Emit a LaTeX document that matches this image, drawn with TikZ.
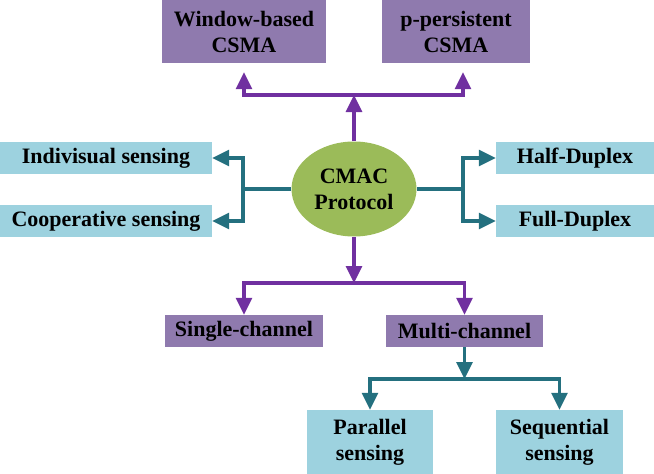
\documentclass[tikz,border=0pt]{standalone}
\usepackage{fontspec}
\setmainfont{Liberation Serif}
\usetikzlibrary{arrows.meta,shapes.geometric}
\definecolor{boxpurple}{HTML}{8F7AAE}
\definecolor{boxblue}{HTML}{9DD2DF}
\definecolor{ellgreen}{HTML}{9BBB59}
\definecolor{linepurple}{HTML}{7030A0}
\definecolor{lineteal}{HTML}{24707F}
\begin{document}
\begin{tikzpicture}[x=1pt,y=-1pt,
  every node/.style={inner sep=0pt,font=\fontsize{22}{26}\selectfont\bfseries,align=center},
  pbox/.style={rectangle,fill=boxpurple},
  bbox/.style={rectangle,fill=boxblue},
  plink/.style={draw=linepurple,line width=3.2pt},
  tlink/.style={draw=lineteal,line width=3.2pt},
  tip/.style={-{Triangle[length=17pt,width=16pt]}}]
\useasboundingbox (0,0) rectangle (654,474);
% nodes
\node[pbox,minimum width=164pt,minimum height=63pt] (win) at (244,31.5) {Window-based\\CSMA};
\node[pbox,minimum width=148pt,minimum height=63pt] (pp) at (456,31.5) {p-persistent\\CSMA};
\node[ellipse,fill=ellgreen,minimum width=125pt,minimum height=95pt] (ell) at (354,189) {CMAC\\Protocol};
\node[bbox,minimum width=212pt,minimum height=31.6pt] (ind) at (106,158) {Indivisual sensing};
\node[bbox,minimum width=212pt,minimum height=31.6pt] (coop) at (106,221) {Cooperative sensing};
\node[bbox,minimum width=158pt,minimum height=31.6pt] (half) at (575,158) {Half-Duplex};
\node[bbox,minimum width=158pt,minimum height=31.6pt] (full) at (575,221) {Full-Duplex};
\node[pbox,minimum width=158pt,minimum height=32pt] (single) at (244,331) {Single-channel};
\node[pbox,minimum width=157pt,minimum height=32pt] (multi) at (464.5,331) {Multi-channel};
\node[bbox,minimum width=126pt,minimum height=64pt] (par) at (370,442) {Parallel\\sensing};
\node[bbox,minimum width=127pt,minimum height=64pt] (seq) at (559.5,442) {Sequential\\sensing};
% junctions
\coordinate (tj) at (354,95);
\coordinate (lj) at (243,189);
\coordinate (rj) at (463,189);
\coordinate (bj) at (354,283);
\coordinate (mj) at (464.5,379);
% top
\draw[plink,tip] (ell.north) -- (tj);
\draw[plink,tip] (tj) -| ([yshift=-9pt]win.south);
\draw[plink,tip] (tj) -| ([yshift=-9pt,xshift=7pt]pp.south);
% left
\draw[tlink] (ell.west) -- (lj);
\draw[tlink,tip] (lj) |- (ind.east);
\draw[tlink,tip] (lj) |- (coop.east);
% right
\draw[tlink] (ell.east) -- (rj);
\draw[tlink,tip] (rj) |- (half.west);
\draw[tlink,tip] (rj) |- (full.west);
% bottom
\draw[plink,tip] (ell.south) -- (bj);
\draw[plink,tip] (bj) -| (single.north);
\draw[plink,tip] (bj) -| (multi.north);
% multi-channel
\draw[tlink,tip] (multi.south) -- (mj);
\draw[tlink,tip] (mj) -| (par.north);
\draw[tlink,tip] (mj) -| (seq.north);
\end{tikzpicture}
\end{document}
